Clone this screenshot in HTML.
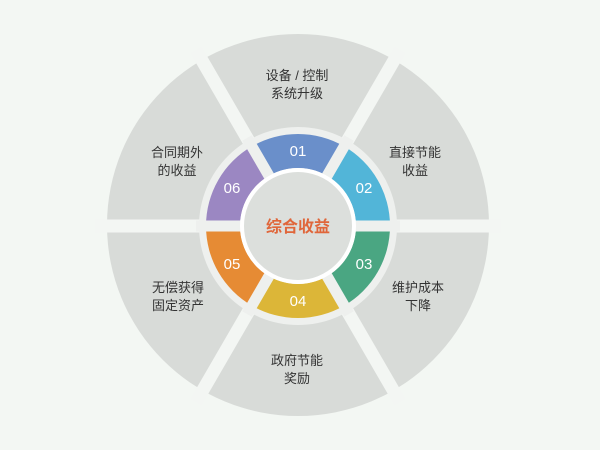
<!DOCTYPE html>
<html><head><meta charset="utf-8"><style>
html,body{margin:0;padding:0;background:#f3f7f3;}
svg{display:block}
text{font-family:"Liberation Sans","Noto Sans CJK SC",sans-serif;}
</style></head><body>
<svg width="600" height="450" viewBox="0 0 600 450">
<rect width="600" height="450" fill="#f3f7f3"/>
<circle cx="298" cy="225" r="191" fill="#d8dbd8"/>
<g stroke="#f3f6f3" stroke-width="13">
<line x1="95" y1="226" x2="501" y2="226"/>
<line x1="400" y1="50" x2="196" y2="402"/>
<line x1="196" y1="50" x2="400" y2="402"/>
</g>
<circle cx="298" cy="226" r="99" fill="#eef0ee"/>
<path d="M344,146.3 A92,92 0 0 0 252,146.3 L269,175.8 A58,58 0 0 1 327,175.8 Z" fill="#6a8fca"/>
<path d="M390,226 A92,92 0 0 0 344,146.3 L327,175.8 A58,58 0 0 1 356,226 Z" fill="#52b5d8"/>
<path d="M344,305.7 A92,92 0 0 0 390,226 L356,226 A58,58 0 0 1 327,276.2 Z" fill="#4aa682"/>
<path d="M252,305.7 A92,92 0 0 0 344,305.7 L327,276.2 A58,58 0 0 1 269,276.2 Z" fill="#dcb638"/>
<path d="M206,226 A92,92 0 0 0 252,305.7 L269,276.2 A58,58 0 0 1 240,226 Z" fill="#e68b34"/>
<path d="M252,146.3 A92,92 0 0 0 206,226 L240,226 A58,58 0 0 1 269,175.8 Z" fill="#9b87c2"/>
<g stroke="#eef0ee" stroke-width="11">
<line x1="196" y1="226" x2="400" y2="226"/>
<line x1="349" y1="138" x2="247" y2="314"/>
<line x1="247" y1="138" x2="349" y2="314"/>
</g>
<circle cx="298" cy="226" r="56" fill="#dcdfdc" stroke="#ffffff" stroke-width="4"/>
<text x="298" y="232" text-anchor="middle" font-size="16" font-weight="bold" fill="#e0663a">综合收益</text>
<g fill="#ffffff" font-size="15" text-anchor="middle">
<text x="298" y="156">01</text>
<text x="364" y="193">02</text>
<text x="364" y="269">03</text>
<text x="298" y="306">04</text>
<text x="232" y="269">05</text>
<text x="232" y="193">06</text>
</g>
<g fill="#333" font-size="13" text-anchor="middle">
<text x="297" y="80">设备 / 控制</text>
<text x="297" y="98">系统升级</text>
<text x="415" y="157">直接节能</text>
<text x="415" y="175">收益</text>
<text x="418" y="292">维护成本</text>
<text x="418" y="310">下降</text>
<text x="297" y="365">政府节能</text>
<text x="297" y="383">奖励</text>
<text x="178" y="292">无偿获得</text>
<text x="178" y="310">固定资产</text>
<text x="177" y="157">合同期外</text>
<text x="177" y="175">的收益</text>
</g>
</svg>
</body></html>
